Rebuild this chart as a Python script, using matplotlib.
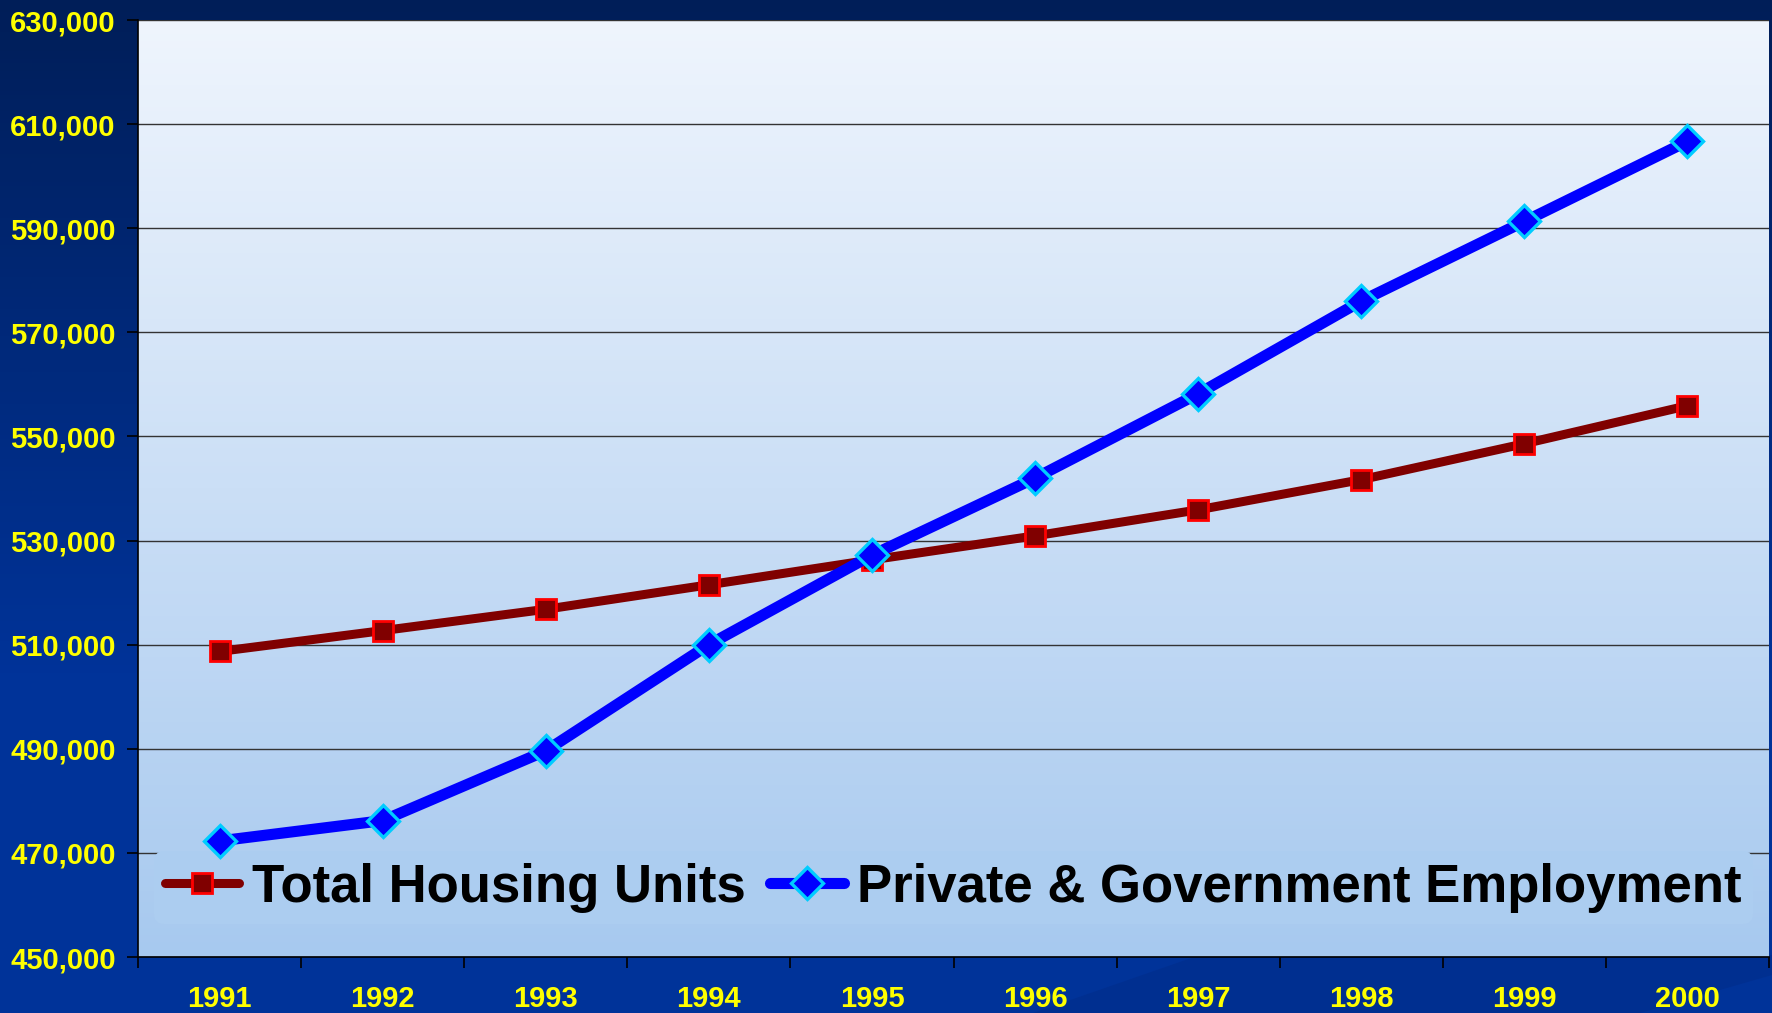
import numpy as np
import matplotlib
matplotlib.use("Agg")
import matplotlib.pyplot as plt
from matplotlib.colors import LinearSegmentedColormap
from matplotlib.patches import Polygon

years = ["1991", "1992", "1993", "1994", "1995", "1996", "1997", "1998", "1999", "2000"]
housing = [508700, 512700, 516800, 521500, 526300, 530900, 535900, 541700, 548600, 555900]
employment = [472300, 476200, 489600, 510000, 527200, 542000, 558200, 576000, 591300, 606700]
yticks = [450000, 470000, 490000, 510000, 530000, 550000, 570000, 590000, 610000, 630000]

plt.rcParams['font.family'] = ['Liberation Sans', 'DejaVu Sans']
plt.rcParams['font.weight'] = 'bold'

W, H = 1772, 1013
fig = plt.figure(figsize=(W / 100, H / 100), dpi=100)

# figure background gradient (dark navy at top, blue at bottom)
bg = fig.add_axes([0, 0, 1, 1], zorder=-10)
bg.set_axis_off()
cmap_bg = LinearSegmentedColormap.from_list("bg", ["#001e58", "#00297a", "#003399", "#003399"])
grad = np.linspace(0, 1, 256).reshape(-1, 1)
bg.set_xlim(0, W)
bg.set_ylim(H, 0)
bg.imshow(grad, aspect="auto", cmap=cmap_bg, extent=[0, W, H, 0], origin="upper")
bg.set_xlim(0, W)
bg.set_ylim(H, 0)
# subtle diagonal darker band at bottom right of the slide
bg.add_patch(Polygon([(1033, 1013), (1200, 955), (1772, 955), (1772, 975), (1640, 1013)],
                     closed=True, facecolor="#002e8e", edgecolor="none", alpha=0.8))

ax = fig.add_axes([138 / W, 56 / H, (1769 - 138) / W, (957 - 20) / H])
ax.set_facecolor("none")
cmap_ax = LinearSegmentedColormap.from_list("ax", ["#eff5fd", "#a7c9ef"])
ax.imshow(grad, aspect="auto", cmap=cmap_ax, extent=[0, 1, 0, 1], origin="upper",
          transform=ax.transAxes, zorder=-5)

x = np.arange(len(years))
ax.plot(x, housing, color="#800000", lw=6.5, marker="s", ms=15,
        mfc="#800000", mec="#ff0000", mew=2, label="Total Housing Units", zorder=3,
        solid_capstyle="round")
ax.plot(x, employment, color="#0000ff", lw=8, marker="D", ms=16,
        mfc="#0000ff", mec="#00ccff", mew=2.4, label="Private & Government Employment", zorder=4,
        solid_capstyle="round")

ax.set_xlim(-0.5, len(years) - 0.5)
ax.set_ylim(450000, 630000)
ax.set_yticks(yticks)
ax.set_yticklabels([f"{v:,}" for v in yticks])
ax.set_xticks(x)
ax.set_xticklabels(years)
ax.set_xticks(np.arange(-0.5, len(years), 1), minor=True)
ax.tick_params(axis="x", which="major", length=0, pad=20, labelsize=21, labelcolor="#ffff00")
ax.tick_params(axis="x", which="minor", length=8, width=1.2, color="black", direction="out")
ax.tick_params(axis="y", length=8, width=1.2, color="black", pad=8, labelsize=21, labelcolor="#ffff00")
for lab in ax.get_xticklabels() + ax.get_yticklabels():
    lab.set_fontweight("bold")

ax.grid(axis="y", color="#333333", lw=1.0, zorder=1)
ax.set_axisbelow(True)
for s in ["top", "right"]:
    ax.spines[s].set_visible(False)
for s in ["left", "bottom"]:
    ax.spines[s].set_color("black")
    ax.spines[s].set_linewidth(1.2)
    ax.spines[s].set_zorder(6)

leg = ax.legend(loc="center", bbox_to_anchor=(0.5, 0.074), ncol=2, fontsize=38,
                frameon=True, facecolor="#accdf0", edgecolor="none", framealpha=1,
                handlelength=1.4, handletextpad=0.25, columnspacing=0.45, borderpad=0.22)
for t in leg.get_texts():
    t.set_fontweight("bold")
leg.set_zorder(2)

fig.savefig("out.png", dpi=100)
